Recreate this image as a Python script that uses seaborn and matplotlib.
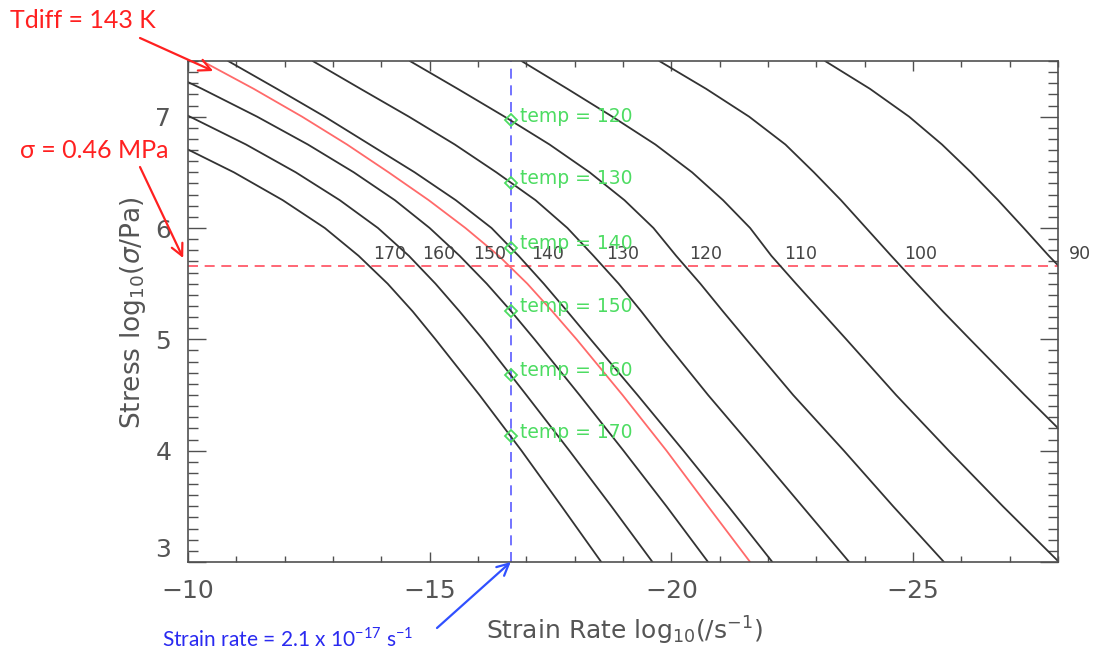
import numpy as np
import pandas as pd
import matplotlib
matplotlib.use("Agg")
import matplotlib.pyplot as plt
import seaborn as sns
from matplotlib.ticker import MultipleLocator

# ---------------- data ----------------
# common stress grid, log10(sigma / Pa)
log_stress = [7.5, 7.25, 7.0, 6.75, 6.5, 6.25, 6.0, 5.75, 5.5, 5.25, 5.0, 4.5, 4.0, 3.5, 3.0]

# log10(strain rate / s^-1) of each isotherm at those stresses
rate_170 = [-6.16, -7.40, -8.60, -9.79, -10.95, -11.96, -12.83, -13.53, -14.13, -14.65, -15.12, -16.03, -16.90, -17.73, -18.55]
rate_160 = [-7.60, -8.84, -10.04, -11.20, -12.23, -13.14, -13.93, -14.57, -15.12, -15.62, -16.10, -17.00, -17.89, -18.76, -19.61]
rate_150 = [-9.09, -10.29, -11.43, -12.48, -13.43, -14.28, -15.00, -15.62, -16.18, -16.69, -17.17, -18.10, -19.01, -19.90, -20.76]
rate_143 = [-10.29, -11.36, -12.36, -13.29, -14.15, -14.98, -15.74, -16.43, -17.02, -17.54, -18.04, -18.99, -19.90, -20.76, -21.63]
rate_140 = [-10.83, -11.84, -12.83, -13.76, -14.69, -15.54, -16.28, -16.84, -17.36, -17.85, -18.33, -19.30, -20.25, -21.18, -22.09]
rate_130 = [-12.58, -13.57, -14.57, -15.52, -16.38, -17.19, -17.85, -18.39, -18.91, -19.38, -19.83, -20.76, -21.74, -22.71, -23.68]
rate_120 = [-14.59, -15.58, -16.55, -17.48, -18.31, -19.03, -19.63, -20.10, -20.60, -21.07, -21.55, -22.52, -23.57, -24.59, -25.64]
rate_110 = [-16.90, -17.85, -18.78, -19.67, -20.43, -21.07, -21.63, -22.07, -22.58, -23.10, -23.62, -24.65, -25.74, -26.86, -28.02]
rate_100 = [-19.75, -20.72, -21.61, -22.36, -22.95, -23.51, -24.03, -24.55, -25.08, -25.62, -26.18, -27.31, -28.47, -29.59, -30.74]
rate_90 = [-23.18, -24.11, -24.92, -25.60, -26.20, -26.76, -27.29, -27.81, -28.37, -28.91, -29.46, -30.60, -31.74, -32.85, -33.99]

temps = [170, 160, 150, 143, 140, 130, 120, 110, 100, 90]
rates = [rate_170, rate_160, rate_150, rate_143, rate_140, rate_130, rate_120, rate_110, rate_100, rate_90]
highlight_temp = 143
labelled_temps = [170, 160, 150, 140, 130, 120, 110, 100, 90]
marker_temps = [120, 130, 140, 150, 160, 170]

ref_stress_mpa = 0.46      # sigma = 0.46 MPa
ref_rate_coef = 2.1        # 2.1 x 10^-17 s^-1
ref_rate_exp = -17
ref_stress = np.log10(ref_stress_mpa * 1e6)
ref_rate = np.log10(ref_rate_coef) + ref_rate_exp

x_ticks = [-10, -15, -20, -25]
y_ticks = [3, 4, 5, 6, 7]

# ---------------- styling ----------------
sns.set_theme(style="ticks")
plt.rcParams["font.family"] = ["DejaVu Sans"]
plt.rcParams["axes.unicode_minus"] = True

FRAME = "#505050"
TXT = "#555555"
GREEN = "#4ddc62"
RED_LINE = "#ff6a6a"
RED_DASH = "#ff4d5e"
BLUE_DASH = "#5b5bff"
ANN_RED = "#ff2020"
ANN_BLUE = "#2a2af0"

df = pd.concat(
    [pd.DataFrame({"temp": str(t), "log_rate": r, "log_stress": log_stress}) for t, r in zip(temps, rates)],
    ignore_index=True,
)
palette = {str(t): (RED_LINE if t == highlight_temp else "#333333") for t in temps}

fig = plt.figure(figsize=(10.94, 6.57), dpi=100)
ax = fig.add_axes([188 / 1094, 1 - 562 / 657, (1058 - 188) / 1094, (562 - 61) / 657])

sns.lineplot(data=df, x="log_rate", y="log_stress", hue="temp", palette=palette,
             sort=False, estimator=None, legend=False, linewidth=1.3, ax=ax)

ax.axhline(ref_stress, color=RED_DASH, lw=1.2, ls=(0, (6, 4)), zorder=1)
ax.axvline(ref_rate, color=BLUE_DASH, lw=1.2, ls=(0, (6, 4)), zorder=1)

ax.set_xlim(-10, -28)
ax.set_ylim(3, 7.5)

# isotherm labels at the crossing with the stress line
for t, r in zip(temps, rates):
    if t not in labelled_temps:
        continue
    xc = np.interp(ref_stress, log_stress[::-1], r[::-1])
    dx = 8 if t == 90 else 3
    ax.annotate(str(t), (xc, ref_stress), xytext=(dx, 1.5), textcoords="offset points",
                ha="left", va="bottom", fontsize=12.5, color="#444444", annotation_clip=False)

# temperatures
for t, r in zip(temps, rates):
    if t not in marker_temps:
        continue
    ys = np.interp(-ref_rate, [-v for v in r], log_stress)
    ax.plot([ref_rate], [ys], "D", mfc="none", mec=GREEN, ms=6, mew=1.3, zorder=5)
    ax.annotate(f"temp = {t}", (ref_rate, ys), xytext=(7, 3), textcoords="offset points",
                ha="left", va="center", fontsize=13.5, color=GREEN)

# axes styling (IDL-like)
ax.xaxis.set_major_locator(plt.FixedLocator(x_ticks))
ax.xaxis.set_minor_locator(MultipleLocator(1))
ax.yaxis.set_major_locator(plt.FixedLocator(y_ticks))
ax.yaxis.set_minor_locator(MultipleLocator(0.1))
ax.tick_params(axis="x", which="major", direction="in", top=True, length=7, width=1, color=FRAME,
               labelsize=18, labelcolor=TXT, pad=12)
ax.tick_params(axis="x", which="minor", direction="in", top=True, length=4, width=1, color=FRAME)
ax.tick_params(axis="y", which="major", direction="in", right=True, length=13, width=1, color=FRAME,
               labelsize=18, labelcolor=TXT, pad=12)
ax.tick_params(axis="y", which="minor", direction="in", right=True, length=7, width=1, color=FRAME)
for s in ax.spines.values():
    s.set_color(FRAME)
    s.set_linewidth(1.2)
    s.set_visible(True)

ax.set_xlabel("Strain Rate log$_{10}$(/s$^{-1}$)", fontsize=18, color=TXT)
ax.set_ylabel("Stress log$_{10}$($\\sigma$/Pa)", fontsize=19, color=TXT)
ax.xaxis.set_label_coords(0.502, -0.105)
ax.yaxis.set_label_coords(-0.046, 0.497)

# the lowest stress label sits just above the corner, as in the reference
fig.canvas.draw()
for lbl in ax.get_yticklabels():
    if lbl.get_text() in ("3",):
        lbl.set_va("bottom")

# ---------------- outside annotations ----------------
ann_font = ["Lato", "DejaVu Sans"]
H = 657
fig.text(10, H - 20, "Tdiff = 143 K", transform=None, ha="left", va="center",
         fontsize=18, color=ANN_RED, family=ann_font)
ax.annotate("", xy=(-10.52, 7.41), xytext=(140, H - 38), textcoords="figure pixels",
            annotation_clip=False,
            arrowprops=dict(arrowstyle="->,head_length=0.7,head_width=0.35", color=ANN_RED, lw=1.6,
                            shrinkA=0, shrinkB=0))

fig.text(20, H - 150, f"\u03c3 = {ref_stress_mpa} MPa", transform=None, ha="left", va="center",
         fontsize=18, color=ANN_RED, family=ann_font)
ax.annotate("", xy=(-9.9, 5.73), xytext=(140, H - 167), textcoords="figure pixels",
            annotation_clip=False,
            arrowprops=dict(arrowstyle="->,head_length=0.7,head_width=0.35", color=ANN_RED, lw=1.6,
                            shrinkA=0, shrinkB=0))

fig.text(162, H - 639, f"Strain rate = {ref_rate_coef} x 10$^{{\\mathregular{{{ref_rate_exp}}}}}$ s$^{{\\mathregular{{-1}}}}$",
         transform=None, ha="left", va="center", fontsize=15, color=ANN_BLUE, family=ann_font)
ax.annotate("", xy=(ref_rate, 3.0), xytext=(437, H - 628), textcoords="figure pixels",
            annotation_clip=False,
            arrowprops=dict(arrowstyle="->,head_length=0.7,head_width=0.35", color="#3050ff", lw=1.6,
                            shrinkA=0, shrinkB=0))

fig.savefig("out.png", dpi=100)
